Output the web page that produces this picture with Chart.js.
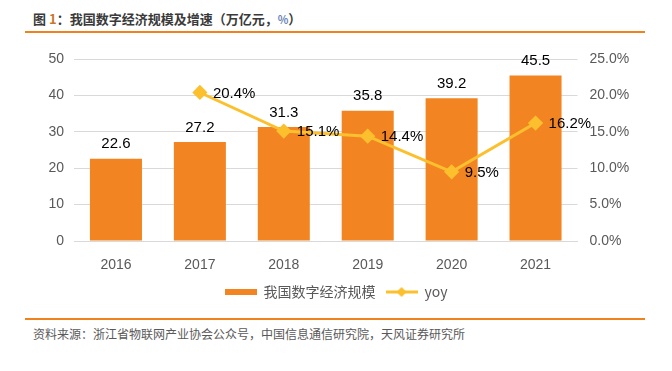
<!DOCTYPE html>
<html>
<head>
<meta charset="utf-8">
<script src="https://cdn.jsdelivr.net/npm/chart.js@4/dist/chart.umd.min.js"></script>
<style>
  html, body { margin: 0; padding: 0; background: #fff; }
  #page { position: relative; width: 672px; height: 371px; overflow: hidden; }
  #title {
    position: absolute; left: 33px; top: 9px;
    font: bold 13px "Noto Sans CJK SC", sans-serif; color: #3a3a3a;
  }
  #title .num { color: #c8782a; }
  #title .pct { color: #6b86b8; font-size: 11px; }
  .rule { position: absolute; left: 25px; width: 620px; height: 2px; background: #f0821e; }
  #footer {
    position: absolute; left: 33px; top: 325px;
    font: 12px "Noto Sans CJK SC", sans-serif; color: #595959;
  }
  #chartBox { position: absolute; left: 0; top: 0; width: 672px; height: 371px; }
</style>
</head>
<body>
<div id="page">
  <div id="title">图 <span class="num">1</span>：我国数字经济规模及增速（万亿元，<span class="pct">%</span>）</div>
  <div class="rule" style="top:31px"></div>
  <div class="rule" style="top:318px"></div>
  <div id="footer">资料来源：浙江省物联网产业协会公众号，中国信息通信研究院，天风证券研究所</div>
  <div id="chartBox"><canvas id="scaleChart" width="672" height="371"></canvas></div>
</div>

<script>
/* =====================================
   Data
===================================== */
const years = ["2016", "2017", "2018", "2019", "2020", "2021"];
const scaleValues = [22.6, 27.2, 31.3, 35.8, 39.2, 45.5];   // 万亿元
const yoyValues = [null, 20.4, 15.1, 14.4, 9.5, 16.2];      // %
const leftTicks = [0, 10, 20, 30, 40, 50];
const rightTicks = [0, 5, 10, 15, 20, 25];

const seriesNames = ["我国数字经济规模", "yoy"];

const BAR_COLOR = "#f28522";
const LINE_COLOR = "#fcc02e";
const TICK_COLOR = "#595959";
const LATIN = "'Liberation Sans', Arial, sans-serif";

/* =====================================
   Legend symbols
===================================== */
function makeSymbol(kind) {
  const c = document.createElement("canvas");
  c.width = 32;
  c.height = 12;
  const ctx = c.getContext("2d");

  if (kind === "bar") {
    ctx.fillStyle = BAR_COLOR;
    ctx.fillRect(0, 3, 32, 6);
  } else {
    ctx.strokeStyle = LINE_COLOR;
    ctx.lineWidth = 3;
    ctx.beginPath();
    ctx.moveTo(0, 6);
    ctx.lineTo(32, 6);
    ctx.stroke();
    ctx.fillStyle = LINE_COLOR;
    ctx.beginPath();
    ctx.moveTo(16, 1);
    ctx.lineTo(21, 6);
    ctx.lineTo(16, 11);
    ctx.lineTo(11, 6);
    ctx.closePath();
    ctx.fill();
  }
  return c;
}

const legendSymbols = [makeSymbol("bar"), makeSymbol("line")];

/* =====================================
   Value labels
===================================== */
const valueLabels = {
  id: "valueLabels",
  afterDatasetsDraw(chart) {
    const ctx = chart.ctx;
    ctx.save();
    ctx.fillStyle = "#000";
    ctx.font = "15px " + LATIN;

    const barMeta = chart.getDatasetMeta(0);
    ctx.textAlign = "center";
    ctx.textBaseline = "bottom";
    barMeta.data.forEach((bar, i) => {
      ctx.fillText(scaleValues[i].toFixed(1), bar.x, bar.y - 7);
    });

    const lineMeta = chart.getDatasetMeta(1);
    ctx.textAlign = "left";
    ctx.textBaseline = "middle";
    lineMeta.data.forEach((pt, i) => {
      if (yoyValues[i] == null) return;
      ctx.fillText(yoyValues[i].toFixed(1) + "%", pt.x + 13, pt.y + 1);
    });

    ctx.restore();
  }
};

/* =====================================
   Chart
===================================== */
new Chart(document.getElementById("scaleChart"), {

  type: "bar",

  data: {
    labels: years,
    datasets: [
      {
        type: "bar",
        label: seriesNames[0],
        data: scaleValues,
        backgroundColor: BAR_COLOR,
        categoryPercentage: 1,
        barPercentage: 0.62,
        yAxisID: "y",
        order: 1
      },
      {
        type: "line",
        label: seriesNames[1],
        data: yoyValues,
        borderColor: LINE_COLOR,
        backgroundColor: LINE_COLOR,
        borderWidth: 3,
        pointStyle: "rectRot",
        pointRadius: 5.5,
        tension: 0,
        yAxisID: "y1",
        order: 0
      }
    ]
  },

  options: {
    responsive: false,
    animation: false,
    devicePixelRatio: 1,

    layout: {
      padding: { top: 59, left: 0, right: 0, bottom: 62 }
    },

    plugins: {
      tooltip: { enabled: false },
      legend: {
        position: "bottom",
        labels: {
          usePointStyle: true,
          pointStyleWidth: 32,
          padding: 10,
          color: TICK_COLOR,
          font: { size: 14, family: "'Noto Sans CJK SC', sans-serif" },
          generateLabels: () => seriesNames.map((name, i) => ({
            text: name,
            pointStyle: legendSymbols[i],
            fontColor: TICK_COLOR,
            datasetIndex: i,
            lineWidth: 0
          }))
        }
      }
    },

    scales: {
      x: {
        afterFit: (s) => { s.height = 34; },
        grid: { display: false },
        border: { display: true, color: "#d9d9d9", width: 1 },
        ticks: {
          padding: 8,
          color: TICK_COLOR,
          font: { size: 14, family: LATIN }
        }
      },
      y: {
        position: "left",
        min: leftTicks[0],
        max: leftTicks[leftTicks.length - 1],
        afterFit: (s) => { s.width = 74; },
        afterBuildTicks: (s) => { s.ticks = leftTicks.map((v) => ({ value: v })); },
        grid: { color: "#d9d9d9", drawTicks: false },
        border: { display: false },
        ticks: {
          padding: 10,
          color: TICK_COLOR,
          font: { size: 14, family: LATIN }
        }
      },
      y1: {
        position: "right",
        min: rightTicks[0],
        max: rightTicks[rightTicks.length - 1],
        afterFit: (s) => { s.width = 94.5; },
        afterBuildTicks: (s) => { s.ticks = rightTicks.map((v) => ({ value: v })); },
        grid: { display: false, drawTicks: false },
        border: { display: false },
        ticks: {
          padding: 12,
          color: TICK_COLOR,
          font: { size: 14, family: LATIN },
          callback: (v) => v.toFixed(1) + "%"
        }
      }
    }
  },

  plugins: [valueLabels]
});
</script>
</body>
</html>
